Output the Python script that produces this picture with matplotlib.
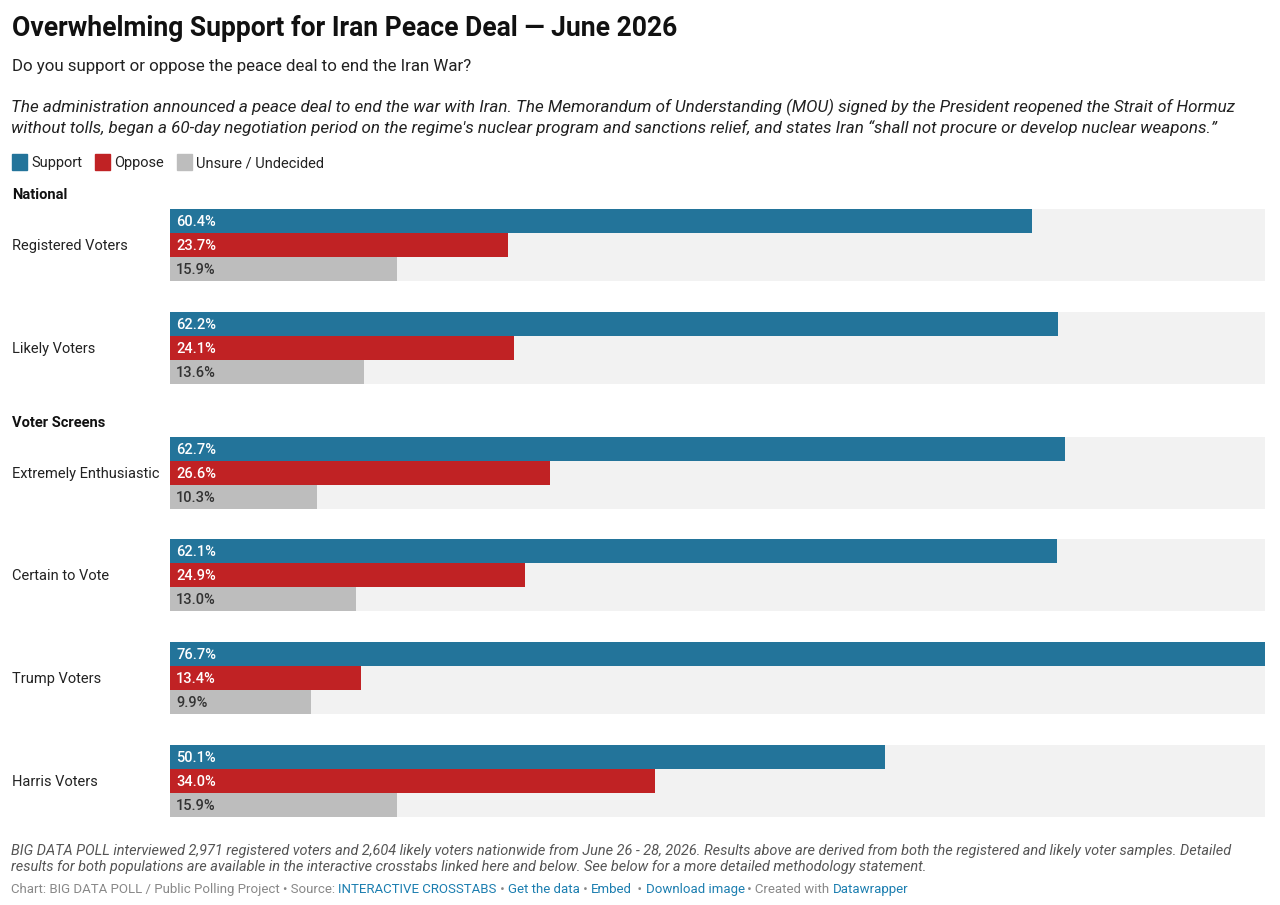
import matplotlib.pyplot as plt

plt.rcParams['font.family'] = ['Roboto', 'DejaVu Sans']

groups = ["Registered Voters", "Likely Voters", "Extremely Enthusiastic",
          "Certain to Vote", "Trump Voters", "Harris Voters"]
sections = ["National", "National", "Voter Screens", "Voter Screens",
            "Voter Screens", "Voter Screens"]
support = [60.4, 62.2, 62.7, 62.1, 76.7, 50.1]
oppose = [23.7, 24.1, 26.6, 24.9, 13.4, 34.0]
unsure = [15.9, 13.6, 10.3, 13.0, 9.9, 15.9]

series = [("Support", support, "#23749a", "white"),
          ("Oppose", oppose, "#c02224", "white"),
          ("Unsure / Undecided", unsure, "#bdbdbd", "#333333")]

W, H = 1280, 905
fig = plt.figure(figsize=(W / 100, H / 100), dpi=100)


def fx(x):
    return x / W


def fy(y):
    # +1 px nudge so text centres sit like the reference
    return 1 - (y + 1) / H


# header
fig.text(fx(12), fy(28), "Overwhelming Support for Iran Peace Deal \u2014 June 2026",
         fontsize=19.1, fontweight='bold', va='center', color='#111111')
fig.text(fx(12), fy(65), "Do you support or oppose the peace deal to end the Iran War?",
         fontsize=12.2, va='center', color='#222222')
desc = ("The administration announced a peace deal to end the war with Iran. The Memorandum of Understanding (MOU) signed by the President reopened the Strait of Hormuz\n"
        "without tolls, began a 60-day negotiation period on the regime's nuclear program and sanctions relief, and states Iran \u201cshall not procure or develop nuclear weapons.\u201d")
fig.text(fx(11), fy(116), desc, fontsize=12.24, style='italic', va='center',
         color='#222222', linespacing=1.3)

# legend
fig.canvas.draw()
renderer = fig.canvas.get_renderer()
lx = 12
for name, _, color, _ in series:
    fig.patches.append(plt.Rectangle((fx(lx), 1 - 170 / H), 15 / W, 16 / H,
                                     transform=fig.transFigure, color=color))
    t = fig.text(fx(lx + 19), fy(162), name, fontsize=10.5, va='center', color='#222222')
    bb = t.get_window_extent(renderer)
    lx = bb.x1 + 13

# bars
ax = fig.add_axes([fx(170), 1 - 817 / H, 1095 / W, 608 / H])
ax.set_xlim(0, max(support))
ax.set_ylim(817, 209)
ax.axis('off')

step, sec_gap, bar_h = 102.8, 22, 24
prev_section = None
for i, g in enumerate(groups):
    top = 209 + step * i + (sec_gap if i >= 2 else 0)
    if sections[i] != prev_section:
        fig.text(fx(12), fy(top - 15), sections[i], fontsize=10.5,
                 fontweight='bold', va='center', color='#111111')
        prev_section = sections[i]
    ax.barh(top + 1.5 * bar_h, max(support), height=3 * bar_h, color='#f2f2f2')
    fig.text(fx(12), fy(top + 1.5 * bar_h), g, fontsize=10.5, va='center', color='#222222')
    for k, (name, vals, color, tcolor) in enumerate(series):
        yc = top + bar_h * (k + 0.5)
        ax.barh(yc, vals[i], height=bar_h, color=color)
        ax.annotate(f"{vals[i]:.1f}%", (0, yc), xytext=(4.5, -0.7), textcoords='offset points',
                    va='center', ha='left', fontsize=10.5, fontweight='medium', color=tcolor)

# footer
note = ("BIG DATA POLL interviewed 2,971 registered voters and 2,604 likely voters nationwide from June 26 - 28, 2026. Results above are derived from both the registered and likely voter samples. Detailed\n"
        "results for both populations are available in the interactive crosstabs linked here and below. See below for a more detailed methodology statement.")
fig.text(fx(11), fy(858), note, fontsize=10.43, style='italic', va='center',
         color='#555555', linespacing=1.22)

gray, blue = '#888888', '#1c7eb0'
parts = [("Chart: BIG DATA POLL / Public Polling Project \u2022 Source: ", gray),
         ("INTERACTIVE CROSSTABS", blue), (" \u2022 ", gray), ("Get the data", blue),
         (" \u2022 ", gray), ("Embed", blue), ("  \u2022 ", gray), ("Download image", blue),
         (" \u2022 Created with ", gray), ("Datawrapper", blue)]
x = fx(11)
for s, c in parts:
    t = fig.text(x, fy(888), s, fontsize=9.5, va='center', color=c)
    bb = t.get_window_extent(renderer)
    x = bb.x1 / W

fig.savefig("out.png", dpi=100, facecolor='white')
